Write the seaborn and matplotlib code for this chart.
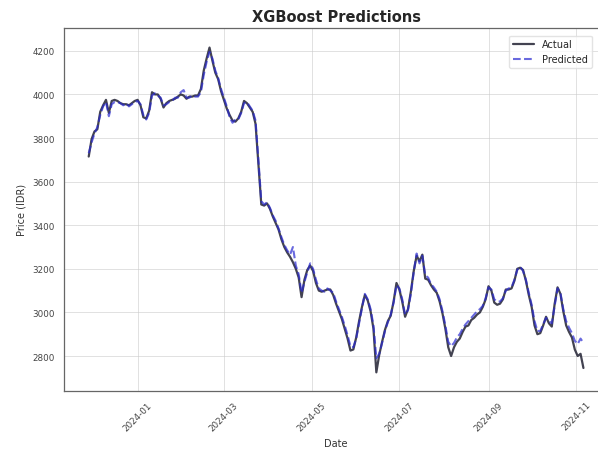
import matplotlib
matplotlib.use("Agg")
import matplotlib.pyplot as plt
import matplotlib.dates as mdates
import numpy as np
import pandas as pd
import seaborn as sns

# Trading-period sample dates (every second day)
start_date = "2023-11-28"
n_points = 173
dates = pd.date_range(start_date, periods=n_points, freq="2D")

actual = [
    3715, 3795, 3830, 3840, 3920, 3950, 3975, 3915, 3970, 3975,
    3970, 3960, 3955, 3955, 3950, 3960, 3970, 3975, 3950, 3895,
    3890, 3925, 4010, 4000, 4000, 3980, 3940, 3960, 3970, 3975,
    3980, 3990, 4000, 3995, 3980, 3990, 3990, 3995, 3995, 4025,
    4110, 4165, 4215, 4155, 4100, 4070, 4015, 3975, 3935, 3905,
    3880, 3875, 3890, 3920, 3970, 3960, 3940, 3920, 3865, 3680,
    3495, 3490, 3500, 3475, 3440, 3410, 3380, 3335, 3300, 3275,
    3255, 3230, 3200, 3160, 3070, 3150, 3195, 3215, 3190, 3135,
    3100, 3095, 3100, 3105, 3105, 3080, 3040, 3005, 2970, 2925,
    2880, 2825, 2830, 2885, 2960, 3025, 3080, 3055, 3005, 2925,
    2725, 2805, 2865, 2920, 2960, 2985, 3050, 3135, 3105, 3050,
    2980, 3015, 3095, 3190, 3260, 3235, 3265, 3155, 3150, 3125,
    3105, 3090, 3050, 2995, 2925, 2840, 2800, 2840, 2865, 2880,
    2910, 2935, 2940, 2965, 2975, 2990, 3000, 3025, 3060, 3120,
    3100, 3045, 3035, 3040, 3060, 3105, 3105, 3110, 3145, 3200,
    3205, 3195, 3145, 3080, 3025, 2940, 2900, 2905, 2940, 2980,
    2950, 2935, 3040, 3115, 3085, 3005, 2940, 2910, 2885, 2830,
    2800, 2810, 2745,
]

predicted = [
    3730, 3780, 3820, 3850, 3905, 3945, 3965, 3900, 3955, 3965,
    3965, 3960, 3950, 3960, 3945, 3955, 3965, 3970, 3955, 3905,
    3885, 3915, 3995, 4005, 3995, 3985, 3950, 3955, 3965, 3970,
    3985, 3985, 4010, 4020, 3985, 3985, 3995, 3990, 3990, 4010,
    4090, 4150, 4195, 4165, 4110, 4075, 4025, 3985, 3945, 3895,
    3870, 3885, 3885, 3915, 3960, 3965, 3945, 3925, 3880, 3700,
    3510, 3495, 3505, 3480, 3445, 3420, 3385, 3345, 3310, 3285,
    3265, 3300, 3215, 3175, 3090, 3140, 3185, 3225, 3200, 3150,
    3110, 3100, 3095, 3110, 3100, 3090, 3050, 3015, 2980, 2940,
    2895, 2845, 2840, 2880, 2950, 3020, 3085, 3060, 3015, 2940,
    2790, 2810, 2860, 2915, 2955, 2990, 3045, 3125, 3110, 3060,
    2990, 3010, 3085, 3185, 3270, 3225, 3260, 3170, 3160, 3130,
    3115, 3095, 3060, 3005, 2940, 2865, 2845, 2860, 2885, 2900,
    2925, 2945, 2960, 2975, 2990, 3005, 3015, 3030, 3065, 3115,
    3105, 3060, 3050, 3050, 3065, 3100, 3110, 3115, 3150, 3195,
    3210, 3190, 3150, 3090, 3035, 2960, 2915, 2915, 2945, 2975,
    2960, 2950, 3030, 3110, 3090, 3015, 2960, 2930, 2905, 2870,
    2855, 2880, 2860,
]

df = pd.DataFrame({"Date": dates, "Actual": actual, "Predicted": predicted})

sns.set_style("white")
plt.rcParams["font.family"] = ["DejaVu Sans"]

fig = plt.figure(figsize=(5.98, 4.52), dpi=100)
ax = fig.add_axes([0.107, 0.133, 0.91, 0.803])

sns.lineplot(data=df, x="Date", y="Actual", ax=ax, color="#222233",
             linewidth=1.6, alpha=0.85, label="Actual")
sns.lineplot(data=df, x="Date", y="Predicted", ax=ax, color="#2a2ad0",
             linewidth=1.5, alpha=0.7, linestyle="--", label="Predicted")

ax.set_title("XGBoost Predictions", fontsize=10.5, fontweight="bold", pad=5)
ax.set_xlabel("Date", fontsize=7, color="#333333", labelpad=4)
ax.set_ylabel("Price (IDR)", fontsize=7, color="#333333")

ax.xaxis.set_major_locator(mdates.MonthLocator(bymonth=[1, 3, 5, 7, 9, 11]))
ax.xaxis.set_major_formatter(mdates.DateFormatter("%Y-%m"))
ax.set_yticks([2800, 3000, 3200, 3400, 3600, 3800, 4000, 4200])
ax.set_ylim(2640, 4305)
ax.tick_params(axis="both", labelsize=6.3, colors="#444444", length=3, width=0.6)
plt.setp(ax.get_xticklabels(), rotation=45)

ax.grid(True, color="#cccccc", alpha=0.6, linewidth=0.7)
for side in ["left", "bottom", "top", "right"]:
    ax.spines[side].set_color("#666666")
    ax.spines[side].set_linewidth(0.9)

leg = ax.legend(loc="upper right", bbox_to_anchor=(0.998, 0.93),
                bbox_transform=fig.transFigure, fontsize=7, frameon=True,
                framealpha=0.8, edgecolor="#dddddd", borderpad=0.4,
                handlelength=2.2)

fig.savefig("out.png", dpi=100)
